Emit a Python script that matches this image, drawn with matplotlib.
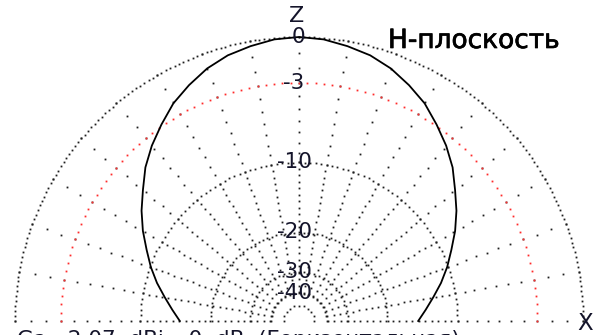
import numpy as np
import matplotlib
matplotlib.use("Agg")
import matplotlib.pyplot as plt
import matplotlib.patheffects as pe

plt.rcParams['font.family'] = ['DejaVu Sans']

# elevation angle (deg, 0 = +X, 90 = Z) and pattern gain (dB)
angles = [0, 5, 10, 15, 20, 25, 30, 35, 40, 45, 50, 55, 60, 65, 70, 75, 80, 85, 90,
          95, 100, 105, 110, 115, 120, 125, 130, 135, 140, 145, 150, 155, 160, 165, 170, 175, 180]
gain_db = [-14.9, -13.8, -12.6, -11.3, -10.1, -9.0, -7.8, -6.7, -5.7, -4.6, -3.7, -2.9, -2.1,
           -1.5, -0.95, -0.55, -0.3, -0.08, 0.0,
           -0.08, -0.3, -0.55, -0.95, -1.5, -2.1, -2.9, -3.7, -4.6, -5.7, -6.7, -7.8, -9.0,
           -10.1, -11.3, -12.6, -13.8, -14.9]

ring_levels = [0, -3, -10, -20, -30, -40, -50]
ring_labels = ["0", "-3", "-10", "-20", "-30", "-40", ""]
title = "Н-плоскость"
footer = "Ga:  2.07  dBi= 0  dB  (Горизонтальная)"


def arrl(db):
    # ARRL log scale: 0.89 per 2 dB
    return 0.89 ** (-np.asarray(db, dtype=float) / 2.0)


R = 284.0   # radius of 0 dB ring in px
cx, cy = 299.0, 321.0  # centre in px (from top-left)

fig = plt.figure(figsize=(6, 3.35), dpi=100)
ax = fig.add_axes([0, 0, 1, 1])
ax.set_xlim(-cx / R, (600 - cx) / R)
ax.set_ylim(-(335 - cy) / R, cy / R)
ax.axis("off")


def px(x, y):
    return (x - cx) / R, (cy - y) / R


dot = dict(marker="s", markersize=1.3, linestyle="none", markeredgewidth=0)
grey = "#1e1e1e"

# radial dotted lines: a dot per dB down to -10, then evenly spaced to -40
r_outer = arrl(np.arange(0, -11, -1))
r_inner = np.arange(arrl(-10) - 6.5 / R, arrl(-40), -6.5 / R)
r_rad = np.concatenate([r_outer, r_inner])
for a in range(0, 181, 10):
    t = np.radians(a)
    ax.plot(r_rad * np.cos(t), r_rad * np.sin(t), color=grey, **dot)

# dotted rings
ring_step = {0: 1, -3: 2, -10: 2, -20: 3, -30: 6, -40: 10, -50: 18}
for lev in ring_levels:
    t = np.radians(np.arange(0, 180.01, ring_step[lev]))
    r = arrl(lev)
    col = "#ff2a2a" if lev == -3 else grey
    ax.plot(r * np.cos(t), r * np.sin(t), color=col, **dot)

# pattern
t = np.radians(angles)
r = arrl(gain_db)
ax.plot(r * np.cos(t), r * np.sin(t), color="black", lw=1.3, zorder=5)

# ring labels: digits centred on the Z axis, minus sign hanging left
for lev, lab in zip(ring_levels, ring_labels):
    if lab:
        shift = 4 if lab.startswith("-") else 0
        ax.text((-1 - shift) / R, arrl(lev), lab, ha="center", va="center",
                fontsize=15.5, color="#14142a", zorder=6)

ax.text(*px(297, 16), "Z", ha="center", va="center", fontsize=16, color="#14142a")
ax.text(*px(585, 323), "X", ha="center", va="center", fontsize=16.5, color="#14142a")
ax.text(*px(388, 48), title, ha="left", va="baseline", fontsize=19, color="black",
        path_effects=[pe.withStroke(linewidth=0.5, foreground="black")])
ax.text(*px(17, 346), footer, ha="left", va="baseline", fontsize=15.5, color="#14142a")

fig.savefig("out.png", dpi=100)
